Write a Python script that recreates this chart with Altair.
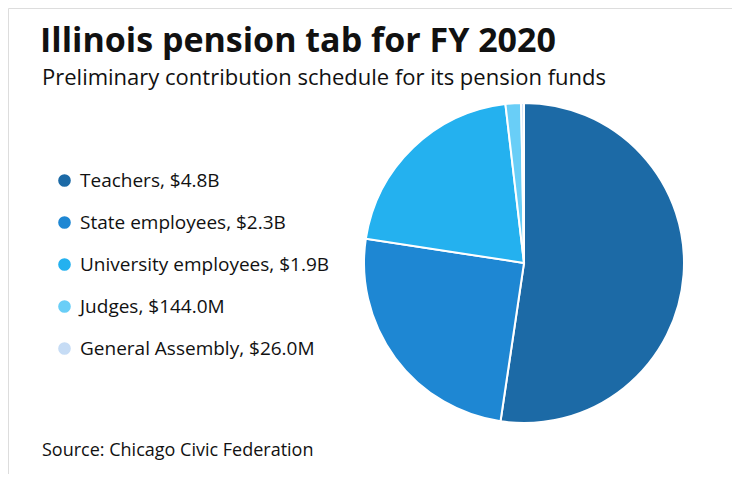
import altair as alt
import pandas as pd

categories = ["Teachers, $4.8B", "State employees, $2.3B", "University employees, $1.9B",
              "Judges, $144.0M", "General Assembly, $26.0M"]
values = [4.8, 2.3, 1.9, 0.144, 0.026]  # billions
colors = ["#1c6aa6", "#1e87d3", "#24b1ef", "#69cef7", "#c6dcf5"]

title_text = "Illinois pension tab for FY 2020"
subtitle_text = "Preliminary contribution schedule for its pension funds"
source_text = "Source: Chicago Civic Federation"

df = pd.DataFrame({"category": categories, "value": values, "order": list(range(len(categories)))})

FONT = "Open Sans"

pie = alt.Chart(df).mark_arc(radius=160, stroke="white", strokeWidth=2).encode(
    theta=alt.Theta("value:Q", stack=True),
    order=alt.Order("order:Q"),
    color=alt.Color(
        "category:N",
        sort=categories,
        scale=alt.Scale(domain=categories, range=colors),
        legend=alt.Legend(
            title=None, orient="none", legendX=47, legendY=163,
            symbolType="circle", symbolSize=160, symbolStrokeWidth=0,
            labelFontSize=19, labelFont=FONT, labelColor="#111111",
            labelOffset=6, rowPadding=22, padding=0, labelLimit=400,
        ),
    ),
    x=alt.value(516),
    y=alt.value(255),
)

title = alt.Chart(pd.DataFrame({"t": [title_text]})).mark_text(
    align="left", baseline="alphabetic", fontSize=34, fontWeight="bold", font=FONT, color="#111111"
).encode(text="t:N", x=alt.value(32), y=alt.value(44))

subtitle = alt.Chart(pd.DataFrame({"t": [subtitle_text]})).mark_text(
    align="left", baseline="alphabetic", fontSize=22, font=FONT, color="#111111"
).encode(text="t:N", x=alt.value(34), y=alt.value(77))

source = alt.Chart(pd.DataFrame({"t": [source_text]})).mark_text(
    align="left", baseline="alphabetic", fontSize=18, font=FONT, color="#111111"
).encode(text="t:N", x=alt.value(34), y=alt.value(448))

chart = alt.layer(pie, title, subtitle, source).properties(
    width=724, height=466, autosize=alt.AutoSizeParams(type="none"), padding=0
).configure_view(stroke=None).configure(background="white")

chart.save("out.html", embed_options={"renderer": "svg", "actions": False})
